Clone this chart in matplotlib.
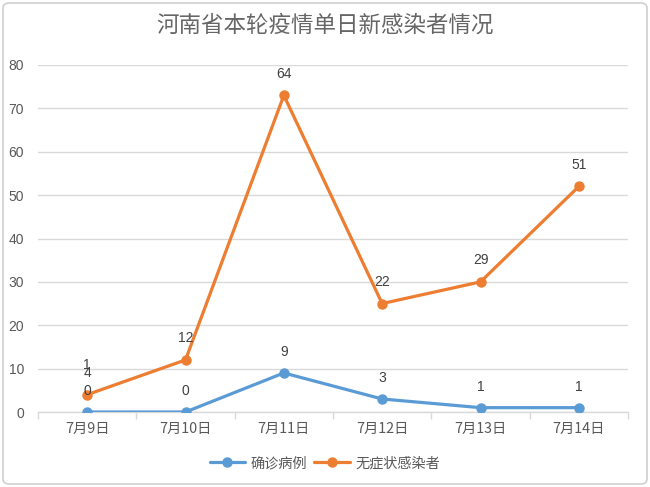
import matplotlib
matplotlib.use("Agg")
import matplotlib.pyplot as plt
import numpy as np
from matplotlib.patches import FancyBboxPatch

plt.rcParams['font.family'] = ['Liberation Sans', 'Noto Sans CJK SC', 'DejaVu Sans']

title = "河南省本轮疫情单日新感染者情况"
categories = ["7月9日", "7月10日", "7月11日", "7月12日", "7月13日", "7月14日"]
confirmed = [0, 0, 9, 3, 1, 1]
asymptomatic = [4, 12, 64, 22, 29, 51]
series_names = ["确诊病例", "无症状感染者"]
yticks = [0, 10, 20, 30, 40, 50, 60, 70, 80]

blue = "#5B9BD5"
orange = "#ED7D31"
grid_c = "#D9D9D9"
text_c = "#595959"

fig = plt.figure(figsize=(6.5, 4.87), dpi=100)
ax = fig.add_axes([38/650, 75/487, 590/650, 347/487])

x = np.arange(len(categories))
stacked = np.add(confirmed, asymptomatic)

ax.plot(x, confirmed, color=blue, lw=2.3, marker='o', ms=6.5, label=series_names[0],
        solid_capstyle='round', zorder=3)
ax.plot(x, stacked, color=orange, lw=2.3, marker='o', ms=6.5, label=series_names[1],
        solid_capstyle='round', zorder=3)

for xi, yv, lab in zip(x, confirmed, confirmed):
    ax.annotate(str(lab), (xi, yv), xytext=(0, 15), textcoords='offset points',
                ha='center', va='center', fontsize=10, color="#404040", zorder=4)
for xi, yv, lab in zip(x, stacked, asymptomatic):
    ax.annotate(str(lab), (xi, yv), xytext=(0, 15.5), textcoords='offset points',
                ha='center', va='center', fontsize=10, color="#404040", zorder=4)
# stray overlapping label near first point in reference
ax.annotate("1", (x[0], stacked[0]), xytext=(0, 21), textcoords='offset points',
            ha='center', va='center', fontsize=10, color="#404040", zorder=4)

ax.set_xlim(-0.5, len(categories) - 0.5)
ax.set_ylim(0, 80)
ax.set_yticks(yticks)
ax.set_yticklabels([str(v) for v in yticks], fontsize=10, color=text_c)
ax.set_xticks(x)
ax.set_xticklabels(categories, fontsize=10.3, color=text_c,
                   family=['Noto Sans CJK SC', 'DejaVu Sans'])
ax.set_xticks(np.arange(-0.5, len(categories), 1), minor=True)
ax.tick_params(axis='x', which='major', length=0, pad=7)
ax.tick_params(axis='x', which='minor', length=5, color=grid_c, width=1)
ax.tick_params(axis='y', length=0, pad=10)
ax.grid(axis='y', color=grid_c, lw=1)
ax.set_axisbelow(True)
for s in ['left', 'right', 'top']:
    ax.spines[s].set_visible(False)
ax.spines['bottom'].set_color(grid_c)
ax.spines['bottom'].set_linewidth(1)

fig.text(0.5, 1 - 25/487, title, ha='center', va='center', fontsize=16.2, color="#666666",
         family=['Noto Sans CJK SC', 'DejaVu Sans'])

leg = fig.legend(loc='center', bbox_to_anchor=(0.5, 1 - 463/487), ncol=2, frameon=False,
                 prop={'family': ['Noto Sans CJK SC', 'DejaVu Sans'], 'size': 10.2},
                 handlelength=2.5, columnspacing=0.5, handletextpad=0.4)
for t in leg.get_texts():
    t.set_color(text_c)

border = FancyBboxPatch((3/650, 3/487), 644/650, 481/487,
                        boxstyle="round,pad=0,rounding_size=0.01",
                        transform=fig.transFigure, fill=False, edgecolor="#D0D0D0", lw=1.2)
fig.patches.append(border)

fig.savefig("out.png", dpi=100)
